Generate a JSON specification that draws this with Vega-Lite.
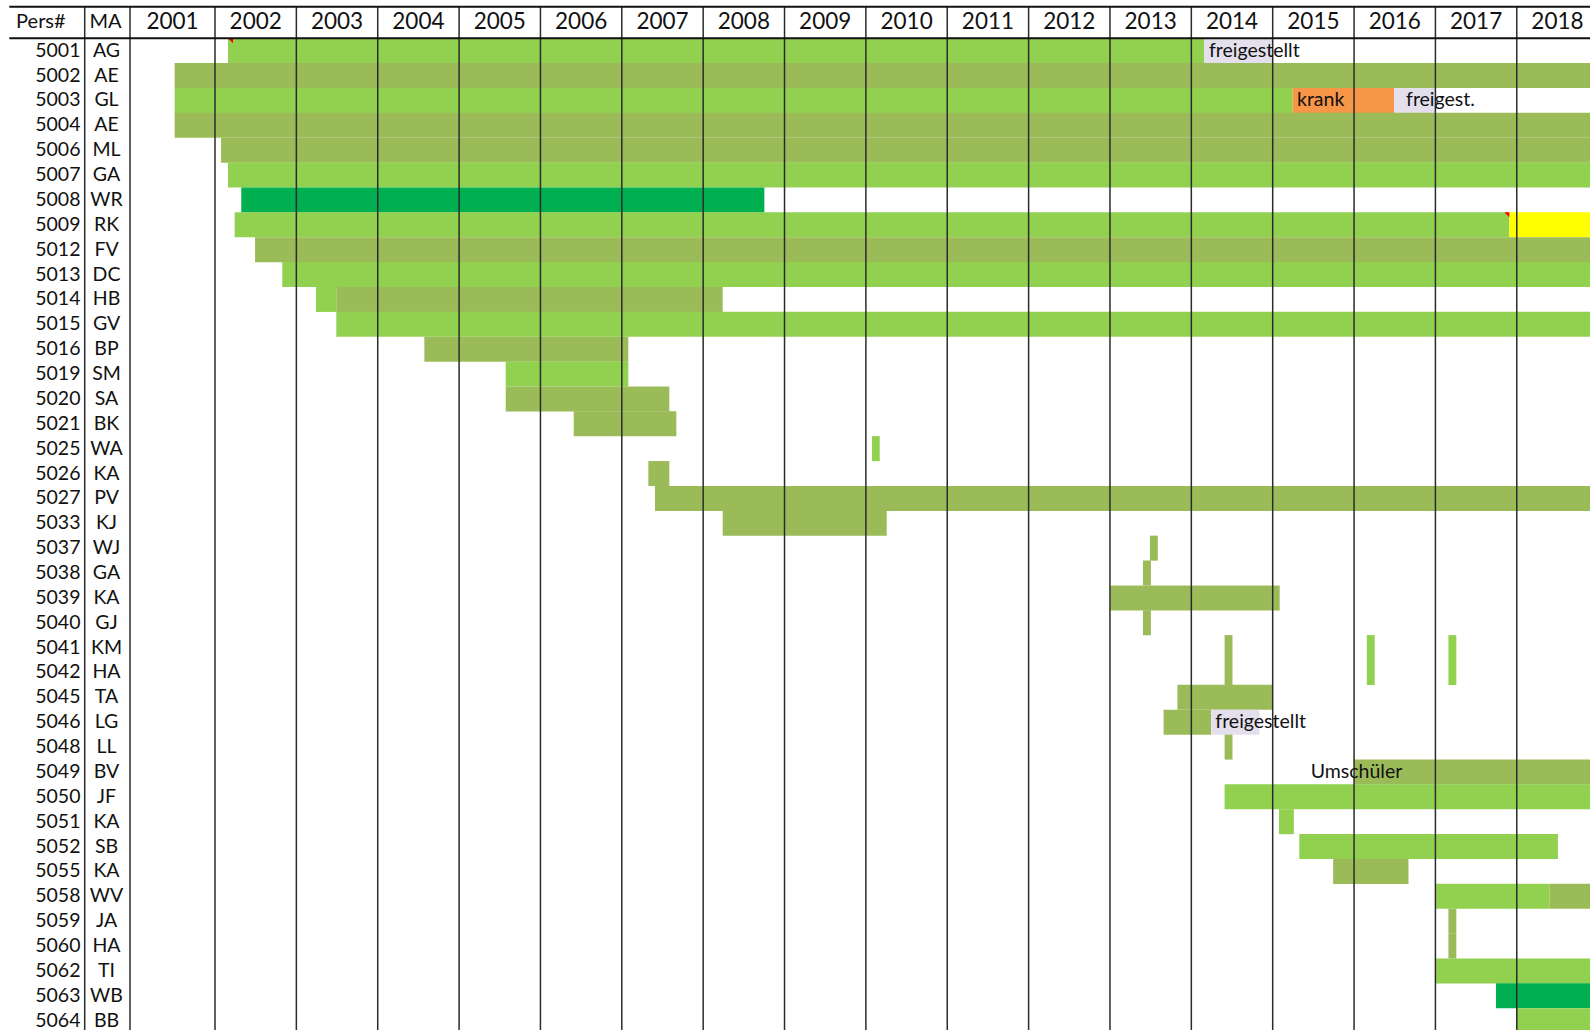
{
  "$schema": "https://vega.github.io/schema/vega-lite/v6.json",
  "width": 1590,
  "height": 1030,
  "autosize": {"type": "none"},
  "padding": 0,
  "background": "white",
  "config": {"view": {"stroke": null}, "font": "Lato", "text": {"color": "#111111"}, "scale": {"continuousPadding": 0}},
  "datasets": {
    "people": [
      {"row": 0, "id": "5001", "ma": "AG"},
      {"row": 1, "id": "5002", "ma": "AE"},
      {"row": 2, "id": "5003", "ma": "GL"},
      {"row": 3, "id": "5004", "ma": "AE"},
      {"row": 4, "id": "5006", "ma": "ML"},
      {"row": 5, "id": "5007", "ma": "GA"},
      {"row": 6, "id": "5008", "ma": "WR"},
      {"row": 7, "id": "5009", "ma": "RK"},
      {"row": 8, "id": "5012", "ma": "FV"},
      {"row": 9, "id": "5013", "ma": "DC"},
      {"row": 10, "id": "5014", "ma": "HB"},
      {"row": 11, "id": "5015", "ma": "GV"},
      {"row": 12, "id": "5016", "ma": "BP"},
      {"row": 13, "id": "5019", "ma": "SM"},
      {"row": 14, "id": "5020", "ma": "SA"},
      {"row": 15, "id": "5021", "ma": "BK"},
      {"row": 16, "id": "5025", "ma": "WA"},
      {"row": 17, "id": "5026", "ma": "KA"},
      {"row": 18, "id": "5027", "ma": "PV"},
      {"row": 19, "id": "5033", "ma": "KJ"},
      {"row": 20, "id": "5037", "ma": "WJ"},
      {"row": 21, "id": "5038", "ma": "GA"},
      {"row": 22, "id": "5039", "ma": "KA"},
      {"row": 23, "id": "5040", "ma": "GJ"},
      {"row": 24, "id": "5041", "ma": "KM"},
      {"row": 25, "id": "5042", "ma": "HA"},
      {"row": 26, "id": "5045", "ma": "TA"},
      {"row": 27, "id": "5046", "ma": "LG"},
      {"row": 28, "id": "5048", "ma": "LL"},
      {"row": 29, "id": "5049", "ma": "BV"},
      {"row": 30, "id": "5050", "ma": "JF"},
      {"row": 31, "id": "5051", "ma": "KA"},
      {"row": 32, "id": "5052", "ma": "SB"},
      {"row": 33, "id": "5055", "ma": "KA"},
      {"row": 34, "id": "5058", "ma": "WV"},
      {"row": 35, "id": "5059", "ma": "JA"},
      {"row": 36, "id": "5060", "ma": "HA"},
      {"row": 37, "id": "5062", "ma": "TI"},
      {"row": 38, "id": "5063", "ma": "WB"},
      {"row": 39, "id": "5064", "ma": "BB"}
    ],
    "spans": [
      {"id": "5001", "from": 2002.16, "to": 2014.156, "status": "hellgrün"},
      {"id": "5001", "from": 2014.156, "to": 2015.007, "status": "freigestellt"},
      {"id": "5002", "from": 2001.504, "to": 2019.5, "status": "olivgrün"},
      {"id": "5003", "from": 2001.504, "to": 2015.246, "status": "hellgrün"},
      {"id": "5003", "from": 2015.246, "to": 2016.491, "status": "krank"},
      {"id": "5003", "from": 2016.491, "to": 2017.0, "status": "freigestellt"},
      {"id": "5004", "from": 2001.504, "to": 2019.5, "status": "olivgrün"},
      {"id": "5006", "from": 2002.074, "to": 2019.5, "status": "olivgrün"},
      {"id": "5007", "from": 2002.16, "to": 2019.5, "status": "hellgrün"},
      {"id": "5008", "from": 2002.323, "to": 2008.752, "status": "grün"},
      {"id": "5009", "from": 2002.242, "to": 2017.908, "status": "hellgrün"},
      {"id": "5009", "from": 2017.908, "to": 2019.5, "status": "gelb"},
      {"id": "5012", "from": 2002.492, "to": 2019.5, "status": "olivgrün"},
      {"id": "5013", "from": 2002.827, "to": 2019.5, "status": "hellgrün"},
      {"id": "5014", "from": 2003.241, "to": 2003.491, "status": "hellgrün"},
      {"id": "5014", "from": 2003.491, "to": 2008.24, "status": "olivgrün"},
      {"id": "5015", "from": 2003.491, "to": 2019.5, "status": "hellgrün"},
      {"id": "5016", "from": 2004.573, "to": 2007.08, "status": "olivgrün"},
      {"id": "5019", "from": 2005.573, "to": 2007.08, "status": "hellgrün"},
      {"id": "5020", "from": 2005.573, "to": 2007.584, "status": "olivgrün"},
      {"id": "5021", "from": 2006.409, "to": 2007.67, "status": "olivgrün"},
      {"id": "5025", "from": 2010.075, "to": 2010.17, "status": "hellgrün"},
      {"id": "5026", "from": 2007.326, "to": 2007.584, "status": "olivgrün"},
      {"id": "5027", "from": 2007.408, "to": 2019.5, "status": "olivgrün"},
      {"id": "5033", "from": 2008.24, "to": 2010.256, "status": "olivgrün"},
      {"id": "5037", "from": 2013.491, "to": 2013.588, "status": "olivgrün"},
      {"id": "5038", "from": 2013.406, "to": 2013.503, "status": "olivgrün"},
      {"id": "5039", "from": 2013.004, "to": 2015.086, "status": "olivgrün"},
      {"id": "5040", "from": 2013.406, "to": 2013.503, "status": "olivgrün"},
      {"id": "5041", "from": 2014.409, "to": 2014.506, "status": "olivgrün"},
      {"id": "5041", "from": 2016.157, "to": 2016.254, "status": "hellgrün"},
      {"id": "5041", "from": 2017.16, "to": 2017.257, "status": "hellgrün"},
      {"id": "5042", "from": 2014.409, "to": 2014.506, "status": "olivgrün"},
      {"id": "5042", "from": 2016.157, "to": 2016.254, "status": "hellgrün"},
      {"id": "5042", "from": 2017.16, "to": 2017.257, "status": "hellgrün"},
      {"id": "5045", "from": 2013.829, "to": 2015.0, "status": "olivgrün"},
      {"id": "5046", "from": 2013.659, "to": 2014.244, "status": "olivgrün"},
      {"id": "5046", "from": 2014.244, "to": 2014.837, "status": "freigestellt"},
      {"id": "5048", "from": 2014.409, "to": 2014.506, "status": "olivgrün"},
      {"id": "5049", "from": 2016.0, "to": 2019.5, "status": "olivgrün"},
      {"id": "5050", "from": 2014.409, "to": 2019.5, "status": "hellgrün"},
      {"id": "5051", "from": 2015.078, "to": 2015.26, "status": "hellgrün"},
      {"id": "5052", "from": 2015.327, "to": 2018.506, "status": "hellgrün"},
      {"id": "5055", "from": 2015.743, "to": 2016.669, "status": "olivgrün"},
      {"id": "5058", "from": 2017.008, "to": 2018.405, "status": "hellgrün"},
      {"id": "5058", "from": 2018.405, "to": 2019.5, "status": "olivgrün"},
      {"id": "5059", "from": 2017.16, "to": 2017.257, "status": "olivgrün"},
      {"id": "5060", "from": 2017.16, "to": 2017.257, "status": "olivgrün"},
      {"id": "5062", "from": 2017.008, "to": 2019.5, "status": "hellgrün"},
      {"id": "5063", "from": 2017.744, "to": 2019.5, "status": "grün"},
      {"id": "5064", "from": 2018.0, "to": 2019.5, "status": "hellgrün"}
    ],
    "notes": [
      {"id": "5001", "at": 2014.217, "text": "freigestellt"},
      {"id": "5003", "at": 2015.299, "text": "krank"},
      {"id": "5003", "at": 2016.639, "text": "freigest."},
      {"id": "5046", "at": 2014.295, "text": "freigestellt"},
      {"id": "5049", "at": 2015.467, "text": "Umschüler"}
    ],
    "comments": [
      {"id": "5001", "at": 2002.221},
      {"id": "5009", "at": 2017.908}
    ],
    "header": [
      {"label": "2001", "mid": 2001.478},
      {"label": "2002", "mid": 2002.5},
      {"label": "2003", "mid": 2003.5},
      {"label": "2004", "mid": 2004.5},
      {"label": "2005", "mid": 2005.5},
      {"label": "2006", "mid": 2006.5},
      {"label": "2007", "mid": 2007.5},
      {"label": "2008", "mid": 2008.5},
      {"label": "2009", "mid": 2009.5},
      {"label": "2010", "mid": 2010.5},
      {"label": "2011", "mid": 2011.5},
      {"label": "2012", "mid": 2012.5},
      {"label": "2013", "mid": 2013.5},
      {"label": "2014", "mid": 2014.5},
      {"label": "2015", "mid": 2015.5},
      {"label": "2016", "mid": 2016.5},
      {"label": "2017", "mid": 2017.5},
      {"label": "2018", "mid": 2018.5}
    ],
    "colheads": [
      {"label": "Pers#", "mid": 1999.8595},
      {"label": "MA", "mid": 2000.654}
    ],
    "vlines": [
      {"x": 2000.3985}, {"x": 2000.9552},
      {"x": 2002}, {"x": 2003}, {"x": 2004}, {"x": 2005}, {"x": 2006}, {"x": 2007},
      {"x": 2008}, {"x": 2009}, {"x": 2010}, {"x": 2011}, {"x": 2012}, {"x": 2013},
      {"x": 2014}, {"x": 2015}, {"x": 2016}, {"x": 2017}, {"x": 2018}
    ],
    "hlines": [
      {"y": -1.7706},
      {"y": -0.5}
    ]
  },
  "layer": [
    {
      "data": {"name": "spans"},
      "transform": [
        {"lookup": "id", "from": {"data": {"name": "people"}, "key": "id", "fields": ["row"]}}
      ],
      "mark": {"type": "bar", "orient": "horizontal", "height": 25, "clip": true},
      "encoding": {
        "x": {"field": "from", "type": "quantitative", "scale": {"domain": [1999.3574, 2018.9], "nice": false, "zero": false, "padding": 0}, "axis": null},
        "x2": {"field": "to"},
        "y": {"field": "row", "type": "quantitative", "scale": {"domain": [-2.04, 39.375], "nice": false, "zero": false, "reverse": true, "padding": 0}, "axis": null},
        "color": {
          "field": "status",
          "type": "nominal",
          "scale": {
            "domain": ["hellgrün", "olivgrün", "grün", "krank", "gelb", "freigestellt"],
            "range": ["#92D050", "#9BBB59", "#00B050", "#F79646", "#FFFF00", "#E4DFEC"]
          },
          "legend": null
        }
      }
    },
    {
      "data": {"name": "comments"},
      "transform": [
        {"lookup": "id", "from": {"data": {"name": "people"}, "key": "id", "fields": ["row"]}}
      ],
      "mark": {"type": "point", "filled": true, "color": "#FF0000", "opacity": 1, "size": 625, "shape": "M-0.4,-1L0,-1L0,-0.6Z"},
      "encoding": {
        "x": {"field": "at", "type": "quantitative", "scale": {"domain": [1999.3574, 2018.9], "nice": false, "zero": false, "padding": 0}, "axis": null},
        "y": {"field": "row", "type": "quantitative", "scale": {"domain": [-2.04, 39.375], "nice": false, "zero": false, "reverse": true, "padding": 0}, "axis": null}
      }
    },
    {
      "data": {"name": "vlines"},
      "mark": {"type": "rule", "color": "#2b2b2b", "strokeWidth": 1.5},
      "encoding": {
        "x": {"field": "x", "type": "quantitative", "scale": {"domain": [1999.3574, 2018.9], "nice": false, "zero": false, "padding": 0}, "axis": null},
        "y": {"datum": -1.7706, "type": "quantitative", "scale": {"domain": [-2.04, 39.375], "nice": false, "zero": false, "reverse": true, "padding": 0}, "axis": null},
        "y2": {"datum": 39.375}
      }
    },
    {
      "mark": {"type": "rule", "color": "#111111", "strokeWidth": 2},
      "encoding": {
        "x": {"datum": 1999.4717, "type": "quantitative", "scale": {"domain": [1999.3574, 2018.9], "nice": false, "zero": false, "padding": 0}, "axis": null},
        "y": {"datum": -1.7706, "type": "quantitative", "scale": {"domain": [-2.04, 39.375], "nice": false, "zero": false, "reverse": true, "padding": 0}, "axis": null},
        "y2": {"datum": 39.375}
      }
    },
    {
      "data": {"name": "hlines"},
      "mark": {"type": "rule", "color": "#111111", "strokeWidth": 2, "clip": true},
      "encoding": {
        "x": {"datum": 1999.4717, "type": "quantitative", "scale": {"domain": [1999.3574, 2018.9], "nice": false, "zero": false, "padding": 0}, "axis": null},
        "x2": {"datum": 2018.9},
        "y": {"field": "y", "type": "quantitative", "scale": {"domain": [-2.04, 39.375], "nice": false, "zero": false, "reverse": true, "padding": 0}, "axis": null}
      }
    },
    {
      "data": {"name": "header"},
      "mark": {"type": "text", "align": "center", "baseline": "middle", "fontSize": 22.5},
      "encoding": {
        "x": {"field": "mid", "type": "quantitative", "scale": {"domain": [1999.3574, 2018.9], "nice": false, "zero": false, "padding": 0}, "axis": null},
        "y": {"datum": -1.17, "type": "quantitative", "scale": {"domain": [-2.04, 39.375], "nice": false, "zero": false, "reverse": true, "padding": 0}, "axis": null},
        "text": {"field": "label"}
      }
    },
    {
      "data": {"name": "colheads"},
      "mark": {"type": "text", "align": "center", "baseline": "middle", "fontSize": 20},
      "encoding": {
        "x": {"field": "mid", "type": "quantitative", "scale": {"domain": [1999.3574, 2018.9], "nice": false, "zero": false, "padding": 0}, "axis": null},
        "y": {"datum": -1.17, "type": "quantitative", "scale": {"domain": [-2.04, 39.375], "nice": false, "zero": false, "reverse": true, "padding": 0}, "axis": null},
        "text": {"field": "label"}
      }
    },
    {
      "data": {"name": "people"},
      "mark": {"type": "text", "align": "right", "baseline": "middle", "fontSize": 19.5},
      "encoding": {
        "x": {"datum": 2000.3468, "type": "quantitative", "scale": {"domain": [1999.3574, 2018.9], "nice": false, "zero": false, "padding": 0}, "axis": null},
        "y": {"field": "row", "type": "quantitative", "scale": {"domain": [-2.04, 39.375], "nice": false, "zero": false, "reverse": true, "padding": 0}, "axis": null},
        "text": {"field": "id"}
      }
    },
    {
      "data": {"name": "people"},
      "mark": {"type": "text", "align": "center", "baseline": "middle", "fontSize": 19.5},
      "encoding": {
        "x": {"datum": 2000.6664, "type": "quantitative", "scale": {"domain": [1999.3574, 2018.9], "nice": false, "zero": false, "padding": 0}, "axis": null},
        "y": {"field": "row", "type": "quantitative", "scale": {"domain": [-2.04, 39.375], "nice": false, "zero": false, "reverse": true, "padding": 0}, "axis": null},
        "text": {"field": "ma"}
      }
    },
    {
      "data": {"name": "notes"},
      "transform": [
        {"lookup": "id", "from": {"data": {"name": "people"}, "key": "id", "fields": ["row"]}}
      ],
      "mark": {"type": "text", "align": "left", "baseline": "middle", "fontSize": 19.5},
      "encoding": {
        "x": {"field": "at", "type": "quantitative", "scale": {"domain": [1999.3574, 2018.9], "nice": false, "zero": false, "padding": 0}, "axis": null},
        "y": {"field": "row", "type": "quantitative", "scale": {"domain": [-2.04, 39.375], "nice": false, "zero": false, "reverse": true, "padding": 0}, "axis": null},
        "text": {"field": "text"}
      }
    }
  ]
}
